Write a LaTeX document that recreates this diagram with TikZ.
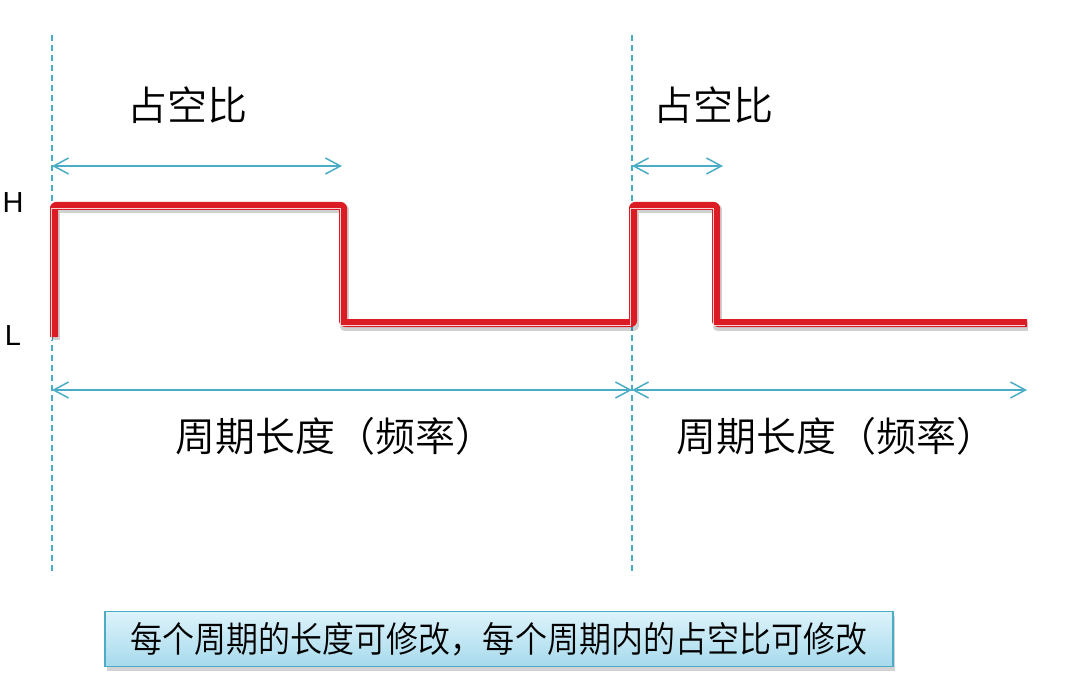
\documentclass[tikz,border=0pt]{standalone}
\usepackage{fontspec}
\setmainfont{Liberation Sans}
\newfontfamily\cjk{Noto Sans CJK SC}[UprightFont=* DemiLight]
\usetikzlibrary{arrows.meta,shadows}
\definecolor{teal}{HTML}{4BACC6}
\definecolor{wavered}{HTML}{DC1C24}
\definecolor{boxtop}{HTML}{DDF3FB}
\definecolor{boxbot}{HTML}{A6DAEC}
\tikzset{
  guide/.style={teal, line width=1.4pt, dash pattern=on 6pt off 4pt},
  span/.style={teal, line width=1.5pt, {Straight Barb[length=15pt,width=16pt,line width=1.5pt]}-{Straight Barb[length=15pt,width=16pt,line width=1.5pt]}},
  wave/.style={wavered, line width=8pt, line join=round, rounded corners=2pt},
  waveshadow/.style={black, opacity=0.18, line width=9pt, line join=round},
  wavestripe/.style={white, opacity=0.8, line width=1.3pt, line join=miter},
  biglabel/.style={font=\cjk\fontsize{40}{44}\selectfont, inner sep=0pt},
  level/.style={font=\fontsize{29}{31}\selectfont, inner sep=0pt},
  notebox/.style={draw=teal, line width=1.2pt, top color=boxtop, bottom color=boxbot,
    minimum width=788pt, minimum height=55pt, inner sep=0pt,
    font=\cjk\fontsize{33}{36}\selectfont,
    drop shadow={shadow xshift=2pt, shadow yshift=-4pt, opacity=0.35}}
}
\begin{document}
\begin{tikzpicture}[x=1pt,y=-1pt]
\useasboundingbox (0,0) rectangle (1075,700);
% guides
\coordinate (g1t) at (52,35);  \coordinate (g1b) at (52,575);
\coordinate (g2t) at (632,35); \coordinate (g2b) at (632,575);
\draw[guide] (g1t) -- (g1b);
\draw[guide] (g2t) -- (g2b);
% waveform points
\coordinate (w0) at (54,337);
\coordinate (w1) at (54,206);
\coordinate (w2) at (343,206);
\coordinate (w3) at (343,323);
\coordinate (w4) at (633,323);
\coordinate (w5) at (633,206);
\coordinate (w6) at (716,206);
\coordinate (w7) at (716,323);
\coordinate (w8) at (1027,323);
\draw[waveshadow, transform canvas={xshift=1pt,yshift=-3pt}] (w0) -- (w1) -- (w2) -- (w3) -- (w4) -- (w5) -- (w6) -- (w7) -- (w8);
\draw[wave] (w0) -- (w1) -- (w2) -- (w3) -- (w4) -- (w5) -- (w6) -- (w7) -- (w8);
\draw[wavestripe, transform canvas={xshift=-2.5pt,yshift=-2.5pt}] (w0) -- (w1) -- (w2) -- (w3) -- (w4) -- (w5) -- (w6) -- (w7) -- (w8);
% level labels
\node[level] (H) at (13,203) {H};
\node[level] (L) at (13,336) {L};
% duty arrows
\coordinate (d1a) at (52,166);  \coordinate (d1b) at (342,166);
\coordinate (d2a) at (632,166); \coordinate (d2b) at (723,166);
\draw[span] (d1a) -- (d1b);
\draw[span] (d2a) -- (d2b);
\node[biglabel] (duty1) at (187,105) {占空比};
\node[biglabel] (duty2) at (713,105) {占空比};
% period arrows
\coordinate (p1a) at (52,390);  \coordinate (p1b) at (632,390);
\coordinate (p2a) at (632,390); \coordinate (p2b) at (1027,390);
\draw[span] (p1a) -- (p1b);
\draw[span] (p2a) -- (p2b);
\node[biglabel] (per1) at (335,436) {周期长度（频率）};
\node[biglabel] (per2) at (836,436) {周期长度（频率）};
% note
\node[notebox] (note) at (499,639) {\scalebox{0.97}[1.08]{每个周期的长度可修改，每个周期内的占空比可修改}};
\end{tikzpicture}
\end{document}
